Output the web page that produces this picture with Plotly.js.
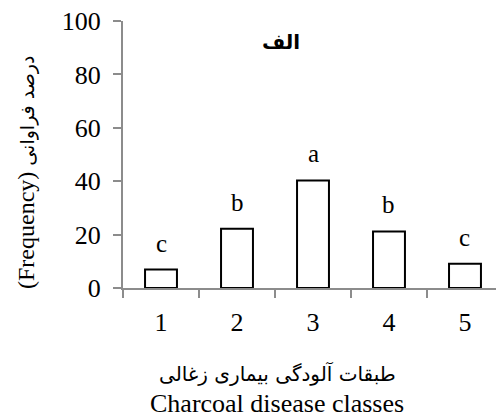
<!DOCTYPE html>
<html>
<head>
<meta charset="utf-8">
<script src="https://cdn.plot.ly/plotly-3.0.1.min.js"></script>
<style>html,body{margin:0;padding:0;background:#fff;}</style>
</head>
<body>
<div id="chart" style="width:496px;height:419px;"></div>
<script>
var categories = ['1', '2', '3', '4', '5'];
var frequency = [6.9, 22.2, 40.3, 21.2, 9.1];
var groupLetters = ['c', 'b', 'a', 'b', 'c'];
var yTicks = [0, 20, 40, 60, 80, 100];
var panelTitle = 'الف';
var xTitleFa = 'طبقات آلودگی بیماری زغالی';
var xTitleEn = 'Charcoal disease classes';
var yTitleEn = '(Frequency)';
var yTitleFa = 'درصد فراوانی';

var serif = 'Liberation Serif, serif';
var arabic = 'DejaVu Sans, sans-serif';
var axisGray = '#8c8c8c';

var trace = {
  type: 'bar',
  x: categories,
  y: frequency,
  width: 0.42,
  marker: {color: '#ffffff', line: {color: '#000000', width: 2}},
  hoverinfo: 'x+y'
};

var annotations = categories.map(function (c, i) {
  return {
    x: i, y: frequency[i], xref: 'x', yref: 'y',
    text: groupLetters[i], showarrow: false,
    xanchor: 'center', yanchor: 'bottom', yshift: 11,
    font: {family: serif, size: 25, color: '#000'}
  };
});

function px(x) { return (x - 123) / 373; }
function py(y) { return (288 - y) / 267; }

annotations.push({
  xref: 'paper', yref: 'paper', x: px(281), y: py(42),
  text: '<b>' + panelTitle + '</b>', showarrow: false,
  xanchor: 'center', yanchor: 'middle',
  font: {family: arabic, size: 20, color: '#000'}
});
annotations.push({
  xref: 'paper', yref: 'paper', x: px(277), y: py(373),
  text: xTitleFa, showarrow: false,
  xanchor: 'center', yanchor: 'middle',
  font: {family: arabic, size: 20, color: '#000'}
});
annotations.push({
  xref: 'paper', yref: 'paper', x: px(277), y: py(403),
  text: xTitleEn, showarrow: false,
  xanchor: 'center', yanchor: 'middle',
  font: {family: serif, size: 26, color: '#000'}
});
annotations.push({
  xref: 'paper', yref: 'paper', x: px(26), y: py(172),
  text: yTitleEn + ' <span style="font-family:DejaVu Sans;font-size:19px">' + yTitleFa + '</span>',
  showarrow: false, textangle: -90,
  xanchor: 'center', yanchor: 'middle',
  font: {family: serif, size: 24, color: '#000'}
});

var layout = {
  width: 496, height: 419,
  margin: {l: 123, r: 0, t: 21, b: 131, pad: 0},
  paper_bgcolor: '#fff', plot_bgcolor: '#fff',
  showlegend: false,
  xaxis: {
    type: 'category',
    range: [-0.5, 4.408],
    tickson: 'boundaries',
    ticks: 'outside', ticklen: 8, tickwidth: 2, tickcolor: axisGray,
    showline: true, linecolor: axisGray, linewidth: 2,
    showgrid: false, zeroline: false,
    ticklabelstandoff: 10,
    tickfont: {family: serif, size: 26, color: '#000'},
    fixedrange: true
  },
  yaxis: {
    range: [0, 100],
    tickvals: yTicks,
    ticktext: yTicks.map(String),
    ticks: 'outside', ticklen: 8, tickwidth: 2, tickcolor: axisGray,
    showline: true, linecolor: axisGray, linewidth: 2,
    showgrid: false, zeroline: false,
    ticklabelstandoff: 7,
    tickfont: {family: serif, size: 26, color: '#000'},
    fixedrange: true
  },
  annotations: annotations
};

Plotly.newPlot('chart', [trace], layout, {displayModeBar: false, staticPlot: true});
</script>
</body>
</html>
